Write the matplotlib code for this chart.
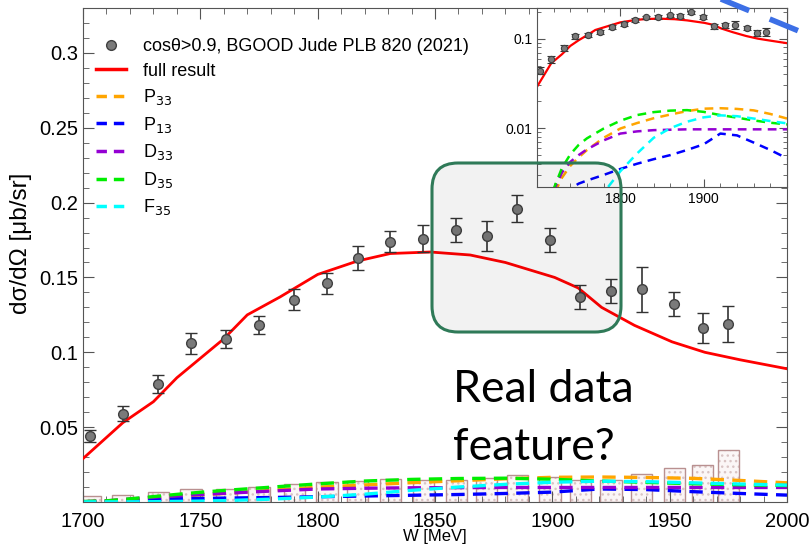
import matplotlib
matplotlib.use("Agg")
import matplotlib.pyplot as plt
import numpy as np
from matplotlib.patches import FancyBboxPatch
from matplotlib.lines import Line2D
from matplotlib.transforms import IdentityTransform
from matplotlib.ticker import MultipleLocator, FixedLocator, FixedFormatter, LogLocator, NullFormatter

plt.rcParams['font.family'] = ['Liberation Sans', 'DejaVu Sans']

# BGOOD data, cos(theta) > 0.9
w_data = [1703, 1717, 1732, 1746, 1761, 1775, 1790, 1804, 1817, 1831, 1845,
          1859, 1872, 1885, 1899, 1912, 1925, 1938, 1952, 1964, 1975]
xs_data = [0.044, 0.059, 0.079, 0.106, 0.109, 0.118, 0.135, 0.146, 0.163, 0.174, 0.176,
           0.182, 0.178, 0.196, 0.175, 0.137, 0.141, 0.142, 0.132, 0.116, 0.119]
xs_err = [0.004, 0.005, 0.006, 0.007, 0.006, 0.006, 0.007, 0.007, 0.008, 0.007, 0.009,
          0.008, 0.010, 0.009, 0.008, 0.008, 0.008, 0.015, 0.008, 0.010, 0.012]
sys_err = [0.004, 0.0047, 0.007, 0.009, 0.009, 0.010, 0.012, 0.0133, 0.014, 0.0153, 0.015,
           0.015, 0.016, 0.018, 0.0167, 0.015, 0.015, 0.019, 0.023, 0.025, 0.035]

# full model result
w_full = [1700, 1717, 1730, 1740, 1750, 1760, 1770, 1784, 1800, 1817, 1831, 1848,
          1865, 1880, 1901, 1911, 1921, 1935, 1951, 1965, 1980, 2000]
xs_full = [0.029, 0.053, 0.067, 0.083, 0.096, 0.109, 0.125, 0.137, 0.152, 0.161, 0.166, 0.167,
           0.165, 0.160, 0.150, 0.143, 0.130, 0.118, 0.107, 0.100, 0.095, 0.089]

# partial wave contributions
w_pw = [1700, 1710, 1720, 1730, 1740, 1750, 1760, 1780, 1800, 1820, 1840, 1860,
        1880, 1900, 1920, 1940, 1960, 1980, 2000]
p33 = [0.0002, 0.0006, 0.0018, 0.0028, 0.0038, 0.0047, 0.0057, 0.0078, 0.0099, 0.0114, 0.0129,
       0.0142, 0.0155, 0.0165, 0.0167, 0.0164, 0.0158, 0.0144, 0.0128]
p13 = [0.0002, 0.0004, 0.0008, 0.0014, 0.0021, 0.0024, 0.0026, 0.0030, 0.0035, 0.0040, 0.0045,
       0.0050, 0.0057, 0.0066, 0.0087, 0.0083, 0.0069, 0.0057, 0.0046]
d33 = [0.0002, 0.0007, 0.0020, 0.0032, 0.0042, 0.0050, 0.0058, 0.0073, 0.0087, 0.0092, 0.0095,
       0.0096, 0.0097, 0.0097, 0.0097, 0.0097, 0.0097, 0.0097, 0.0097]
d35 = [0.0003, 0.0008, 0.0021, 0.0036, 0.0051, 0.0065, 0.0077, 0.0099, 0.0121, 0.0140, 0.0151,
       0.0157, 0.0159, 0.0152, 0.0140, 0.0131, 0.0122, 0.0115, 0.0110]
f35 = [0.00005, 0.00008, 0.0001, 0.0002, 0.0004, 0.0006, 0.0009, 0.0019, 0.0033, 0.0052, 0.0078,
       0.0100, 0.0118, 0.0132, 0.0139, 0.0136, 0.0128, 0.0120, 0.0113]

waves = [("P$_{33}$", p33, "#ffa500"), ("P$_{13}$", p13, "#0000ff"), ("D$_{33}$", d33, "#9400d3"),
         ("D$_{35}$", d35, "#00ee00"), ("F$_{35}$", f35, "#00ffff")]

fig = plt.figure(figsize=(8.11, 5.49), dpi=100)
ax = fig.add_axes([83 / 811, 1 - 502 / 549, 704 / 811, 494 / 549])

# systematic error bars at the bottom
ax.bar(w_data, sys_err, width=9, facecolor="#fbf6f6", edgecolor="#d9c4c4", hatch="...", lw=0, zorder=1)
ax.bar(w_data, sys_err, width=9, facecolor="none", edgecolor="#b99090", lw=1, zorder=1.5)

for name, vals, col in waves:
    ax.plot(w_pw, vals, color=col, lw=2.4, dashes=(4, 2.5), zorder=2)
ax.plot(w_full, xs_full, color="#ff0000", lw=2, zorder=3)
ax.errorbar(w_data, xs_data, yerr=xs_err, fmt="o", ms=7, mfc="#7a7a7a", mec="#404040", mew=1,
            ecolor="#333333", elinewidth=1.2, capsize=4, capthick=1.2, zorder=4)

ax.set_xlim(1700, 2000)
ax.set_ylim(0, 0.33)
ax.xaxis.set_major_locator(MultipleLocator(50))
ax.xaxis.set_minor_locator(MultipleLocator(10))
ax.yaxis.set_major_locator(FixedLocator([0.05, 0.1, 0.15, 0.2, 0.25, 0.3]))
ax.yaxis.set_major_formatter(FixedFormatter(["0.05", "0.1", "0.15", "0.2", "0.25", "0.3"]))
ax.yaxis.set_minor_locator(MultipleLocator(0.01))
ax.tick_params(which="both", direction="in", top=True, right=True, labelsize=14.5, color="#555555")
ax.tick_params(which="major", length=8)
ax.tick_params(which="minor", length=4)
ax.tick_params(axis="x", pad=7)
for s in ax.spines.values():
    s.set_color("#555555")
ax.set_xlabel("W [MeV]", fontsize=12, labelpad=-1)
ax.set_ylabel("dσ/dΩ [μb/sr]", fontsize=17.5)
ax.yaxis.set_label_coords(-0.072, 0.524)

handles = [Line2D([], [], ls="none", marker="o", ms=7, mfc="#7a7a7a", mec="#404040"),
           Line2D([], [], color="#ff0000", lw=2.5)]
labels = ["cosθ>0.9, BGOOD Jude PLB 820 (2021)", "full result"]
for name, vals, col in waves:
    handles.append(Line2D([], [], color=col, lw=2.5, dashes=(3, 2)))
    labels.append(name)
ax.legend(handles, labels, loc="upper left", bbox_to_anchor=(0.0, 0.965), frameon=False,
          fontsize=13, handlelength=1.7, handletextpad=0.9, labelspacing=0.42, borderaxespad=0.3)

# inset, log scale
ins = fig.add_axes([537 / 811, 1 - 187 / 549, 250 / 811, 179 / 549])
for name, vals, col in waves:
    ins.plot(w_pw, vals, color=col, lw=1.8, dashes=(3.5, 2.5))
ins.plot(w_full, xs_full, color="#ff0000", lw=1.6)
ins.errorbar(w_data, xs_data, yerr=xs_err, fmt="o", ms=4.5, mfc="#7a7a7a", mec="#404040", mew=0.8,
             ecolor="#333333", elinewidth=1, capsize=3, capthick=1)
ins.set_yscale("log")
ins.set_xlim(1700, 2000)
ins.set_ylim(0.0022, 0.22)
ins.xaxis.set_major_locator(FixedLocator([1800, 1900]))
ins.xaxis.set_minor_locator(MultipleLocator(20))
ins.yaxis.set_major_locator(FixedLocator([0.01, 0.1]))
ins.yaxis.set_major_formatter(FixedFormatter(["0.01", "0.1"]))
ins.yaxis.set_minor_locator(LogLocator(base=10, subs=np.arange(2, 10)))
ins.yaxis.set_minor_formatter(NullFormatter())
ins.tick_params(which="both", direction="in", top=True, right=True, labelsize=10, color="#555555")
ins.tick_params(which="major", length=6)
ins.tick_params(which="minor", length=3)
for s in ins.spines.values():
    s.set_color("#555555")

# highlight box (pixel coordinates)
ident = IdentityTransform()
box_fill = FancyBboxPatch((432, 549 - 332), 189, 169, boxstyle="round,pad=0,rounding_size=26",
                          transform=ident, facecolor="black", alpha=0.05, edgecolor="none", zorder=5)
box_edge = FancyBboxPatch((432, 549 - 332), 189, 169, boxstyle="round,pad=0,rounding_size=26",
                          transform=ident, facecolor="none", edgecolor="#2f7a58", lw=2.2, zorder=6)
fig.patches.extend([box_fill, box_edge])

fig.text(453 / 811, 1 - 402 / 549, "Real data", fontsize=32, family=["Lato", "DejaVu Sans"],
         color="black", ha="left", va="baseline")
fig.text(453 / 811, 1 - 460 / 549, "feature?", fontsize=32, family=["Lato", "DejaVu Sans"],
         color="black", ha="left", va="baseline")

# blue dashed arrow fragment at the top right
arrow = Line2D([716, 811], [549 + 3, 549 - 36], transform=ident, color="#3c6fe6", lw=4,
               dashes=(5.5, 4), solid_capstyle="butt")
fig.lines.append(arrow)

fig.savefig("out.png", dpi=100)
